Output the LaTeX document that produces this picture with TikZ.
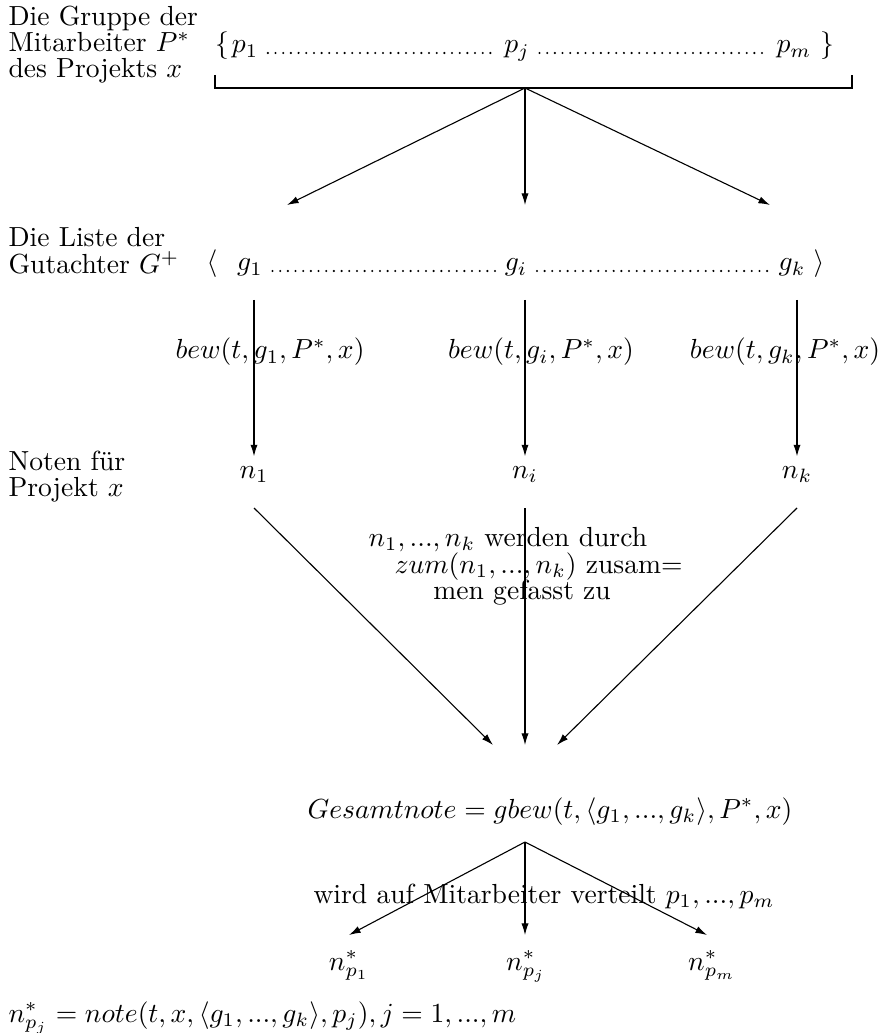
\documentclass[tikz,border=0pt]{standalone}
\usepackage{amsmath,amssymb}
\usetikzlibrary{positioning,arrows.meta}

\tikzset{
  every node/.style={font=\fontsize{10pt}{9.6pt}\selectfont},
  side/.style={anchor=north west, align=left, inner sep=0pt},
  elem/.style={anchor=base},
  plain/.style={anchor=base west, inner sep=0pt},
  arr/.style={-{Latex[length=4.2pt,width=2.6pt]}},
  dotrow/.style={line width=0.85pt, dash pattern=on 0pt off 2.78pt, line cap=round},
}

\begin{document}
\begin{tikzpicture}[x=0.3623pt, y=-0.3623pt]
    \useasboundingbox (0,0) rectangle (878,1033);

    % Mitarbeiter des Projekts
    \node[side] (lblP) at (8,5) {Die Gruppe der\\Mitarbeiter $P^*$\\des Projekts $x$};
    \node[elem] (lbr) at (222,53) {$\{$};
    \node[elem] (p1) at (245,53) {$p_1$};
    \node[elem] (pj) at (517,53) {$p_j$};
    \node[elem] (pm) at (794,53) {$p_m$};
    \node[elem] (rbr) at (827,53) {$\}$};
    \draw[dotrow] (p1.base east) -- (pj.base west);
    \draw[dotrow] (pj.base east) -- (pm.base west);

    % Klammer unter der Gruppe
    \coordinate (brL) at (215,75);
    \coordinate (brR) at (852,75);
    \coordinate (top) at (525,88);
    \draw (brL) |- (top) -| (brR);

    % Pfeile zu den Gutachtern
    \coordinate (t1) at (287,205);
    \coordinate (ti) at (525,205);
    \coordinate (tk) at (770,205);
    \foreach \t in {t1,ti,tk}
        \draw[arr] (top) -- (\t);

    % Liste der Gutachter
    \node[side] (lblG) at (8,227) {Die Liste der\\Gutachter $G^+$};
    \node[elem] (lang) at (212,271) {$\langle$};
    \node[elem] (g1) at (250,271) {$g_1$};
    \node[elem] (gi) at (516,271) {$g_i$};
    \node[elem] (gk) at (792,271) {$g_k$};
    \node[elem] (rang) at (819,271) {$\rangle$};
    \draw[dotrow] (g1.base east) -- (gi.base west);
    \draw[dotrow] (gi.base east) -- (gk.base west);

    % Bewertung durch die Gutachter
    \node[side] (lblN) at (8,450) {Noten f\"ur\\Projekt $x$};
    \coordinate (s1) at (254,300);
    \coordinate (si) at (525,300);
    \coordinate (sk) at (797,300);
    \node[elem] (n1) at (254,478) {$n_1$};
    \node[elem] (ni) at (525,478) {$n_i$};
    \node[elem] (nk) at (797,478) {$n_k$};
    \draw[arr] (s1) -- (n1);
    \draw[arr] (si) -- (ni);
    \draw[arr] (sk) -- (nk);
    \node[elem] (b1) at (270,359) {$bew(t,g_1,P^*,x)$};
    \node[elem] (bi) at (541,359) {$bew(t,g_i,P^*,x)$};
    \node[elem] (bk) at (785,359) {$bew(t,g_k,P^*,x)$};

    % Zusammenfassung der Noten
    \coordinate (m1) at (254,508);
    \coordinate (mi) at (525,508);
    \coordinate (mk) at (797,508);
    \coordinate (e1) at (493,745);
    \coordinate (ei) at (525,745);
    \coordinate (ek) at (557,745);
    \draw[arr] (m1) -- (e1);
    \draw[arr] (mi) -- (ei);
    \draw[arr] (mk) -- (ek);
    \node[side] (zus) at (368,527) {$n_1,...,n_k$ werden durch\\
        \hspace*{9.4pt}$zum(n_1,...,n_k)$ zusam=\\
        \hspace*{23.5pt}men gefasst zu};

    % Gesamtnote
    \node[plain] (ges) at (307,818) {$Gesamtnote = gbew(t,\langle g_1,...,g_k\rangle,P^*,x)$};

    % Verteilung auf die Mitarbeiter
    \coordinate (top2) at (525,842);
    \coordinate (u1) at (349,935);
    \coordinate (uj) at (525,935);
    \coordinate (um) at (707,935);
    \foreach \u in {u1,uj,um}
        \draw[arr] (top2) -- (\u);
    \node[plain] (vert) at (313,903) {wird auf Mitarbeiter verteilt $p_1,...,p_m$};
    \node[elem] (np1) at (349,970) {$n^*_{p_1}$};
    \node[elem] (npj) at (526,970) {$n^*_{p_j}$};
    \node[elem] (npm) at (712,970) {$n^*_{p_m}$};
    \node[plain] (formel) at (8,1022) {$n^*_{p_j} = note(t,x,\langle g_1,...,g_k\rangle,p_j), j = 1,...,m$};
\end{tikzpicture}
\end{document}
